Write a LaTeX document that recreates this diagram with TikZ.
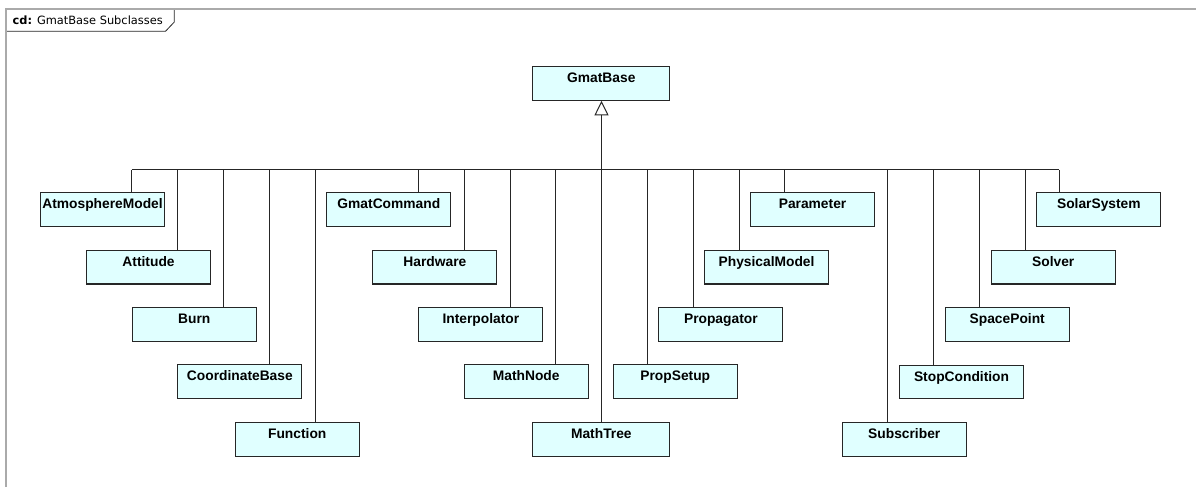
\documentclass[tikz,border=0pt]{standalone}
\usepackage{fontspec}
\setmainfont{Liberation Sans}
\newfontfamily\titlefont{DejaVu Sans}
\usetikzlibrary{arrows.meta}
\definecolor{classfill}{RGB}{224,255,255}
\definecolor{frameline}{RGB}{170,170,170}
\definecolor{edgeline}{RGB}{38,38,38}

\begin{document}
\begin{tikzpicture}[x=1pt,y=-1pt,
  classbox/.style={draw=edgeline, fill=classfill, line width=1.1pt, rectangle,
    anchor=north west, minimum width=124pt, minimum height=33.7pt, inner sep=0pt,
    font=\bfseries\fontsize{13.8}{15}\selectfont, text height=9.3pt, text depth=11pt},
  widebox/.style={classbox, minimum width=137pt},
  link/.style={draw=edgeline, line width=1pt},
  inherit/.style={link, -{Triangle[width=14pt, length=14.5pt, fill=white]}},
]
\useasboundingbox (0,0) rectangle (1196,487);

% diagram frame with its name tab
\fill[white] (6,8.7) -- (174.3,8.7) -- (174.3,22) -- (165.5,31.3) -- (6,31.3) -- cycle;
\draw[edgeline, line width=0.8pt] (174.3,8.7) -- (174.3,22) -- (165.5,31.3) -- (6,31.3);
\draw[frameline, line width=1.7pt] (6,487) -- (6,8.7) -- (1196,8.7);
\node[anchor=base west, inner sep=0pt, font=\titlefont\fontsize{11.4}{13}\selectfont]
  (title) at (12.5,24.3) {\textbf{cd:} GmatBase Subclasses};

% base class
\node[widebox] (base) at (532.3,66) {GmatBase};

% subclasses
\node[classbox] (atm)    at (40,192.3)    {AtmosphereModel};
\node[classbox] (att)    at (86,249.7)    {Attitude};
\node[classbox] (burn)   at (131.7,307)   {Burn};
\node[classbox] (coord)  at (177.3,364.3) {CoordinateBase};
\node[classbox] (func)   at (234.7,422)   {Function};
\node[classbox] (cmd)    at (326.3,192.3) {GmatCommand};
\node[classbox] (hw)     at (372.3,249.7) {Hardware};
\node[classbox] (interp) at (418.3,307)   {Interpolator};
\node[classbox] (mnode)  at (463.7,364.3) {MathNode};
\node[widebox]  (mtree)  at (532.3,422)   {MathTree};
\node[classbox] (psetup) at (612.7,364.3) {PropSetup};
\node[classbox] (prop)   at (658.3,307)   {Propagator};
\node[classbox] (phys)   at (704,249.7)   {PhysicalModel};
\node[classbox] (param)  at (750,192.3)   {Parameter};
\node[classbox] (subs)   at (841.7,422)   {Subscriber};
\node[classbox] (stop)   at (899,364.5)   {StopCondition};
\node[classbox] (space)  at (944.7,307.2) {SpacePoint};
\node[classbox] (solver) at (990.7,249.7) {Solver};
\node[classbox] (solar)  at (1036.3,192.3){SolarSystem};

% junctions on the shared bus
\coordinate (j-atm)    at (131.7,169.5);
\coordinate (j-att)    at (177.7,169.5);
\coordinate (j-burn)   at (223.3,169.5);
\coordinate (j-coord)  at (269.3,169.5);
\coordinate (j-func)   at (315,169.5);
\coordinate (j-cmd)    at (418.3,169.5);
\coordinate (j-hw)     at (464,169.5);
\coordinate (j-interp) at (510,169.5);
\coordinate (j-mnode)  at (555.7,169.5);
\coordinate (j-mtree)  at (601.5,169.5);
\coordinate (j-psetup) at (647.3,169.5);
\coordinate (j-prop)   at (693.3,169.5);
\coordinate (j-phys)   at (739,169.5);
\coordinate (j-param)  at (784.7,169.5);
\coordinate (j-subs)   at (887.7,169.5);
\coordinate (j-stop)   at (933.5,169.5);
\coordinate (j-space)  at (979.3,169.5);
\coordinate (j-solver) at (1025,169.5);
\coordinate (j-solar)  at (1059.3,169.5);

% stems from each subclass up to the bus
\foreach \c in {atm,att,burn,coord,func,cmd,hw,interp,mnode,mtree,psetup,prop,phys,param,subs,stop,space,solver,solar}
  \draw[link] (\c.north -| j-\c) -- (j-\c);

% bus and generalization arrow to the base class
\draw[link] (j-atm) -- (j-solar);
\draw[inherit] (j-mtree) -- (base.south -| j-mtree);
\end{tikzpicture}
\end{document}
